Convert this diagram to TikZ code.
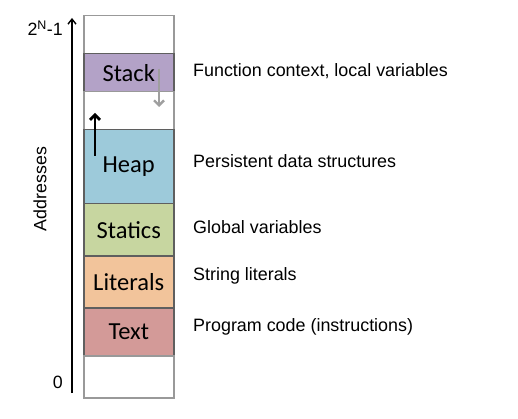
\documentclass[tikz,border=0pt]{standalone}
\usepackage{fontspec}
\setmainfont{Liberation Sans}
\newfontfamily\calib{Carlito}
\usetikzlibrary{arrows.meta}
\definecolor{stackc}{HTML}{B3A2C7}
\definecolor{heapc}{HTML}{9DCADA}
\definecolor{staticc}{HTML}{C7D6A0}
\definecolor{litc}{HTML}{F2C49B}
\definecolor{textc}{HTML}{D39A98}
\definecolor{edgec}{HTML}{5F5F5F}
\tikzset{
  seg/.style={draw=edgec, line width=1.5pt, minimum width=90pt, inner sep=0pt, anchor=north west, font=\calib\fontsize{24.5}{27}\selectfont},
  emptyseg/.style={seg, draw=gray!80},
  desc/.style={anchor=west, inner sep=0pt, font=\fontsize{17.9}{20}\selectfont},
  axlab/.style={inner sep=0pt, font=\fontsize{17.8}{20}\selectfont}
}
\begin{document}
\begin{tikzpicture}[x=1pt,y=-1pt]
\useasboundingbox (0,0) rectangle (518,419);
\node[emptyseg, minimum height=38pt] (top) at (83,15) {};
\node[seg, fill=stackc, minimum height=38pt] (stack) at (83,53) {Stack};
\node[emptyseg, minimum height=38pt] (gap) at (83,91) {};
\node[seg, fill=heapc, minimum height=74pt] (heap) at (83,129) {Heap};
\node[seg, fill=staticc, minimum height=52pt] (statics) at (83,203) {Statics};
\node[seg, fill=litc, minimum height=52pt] (lit) at (83,255) {Literals};
\node[seg, fill=textc, minimum height=48pt] (text) at (83,307) {Text};
\node[emptyseg, minimum height=42pt] (bot) at (83,355) {};

\node[desc] (d1) at (193,71) {Function context, local variables};
\node[desc] (d2) at (193,161) {Persistent data structures};
\node[desc] (d3) at (193,227) {Global variables};
\node[desc] (d4) at (193,276) {String literals};
\node[desc] (d5) at (193,327) {Program code (instructions)};

\coordinate (axb) at (72,393);
\coordinate (axt) at (72,18);
\draw[line width=1.4pt, -{Straight Barb[length=5pt,width=8pt]}] (axb) -- (axt);
\node[axlab, anchor=east] (nmax) at (63,28) {2\textsuperscript{N}-1};
\node[axlab, anchor=east] (zero) at (63,382) {0};
\node[axlab, rotate=90] (addr) at (40,189) {Addresses};

\coordinate (sa1) at (159,69);
\coordinate (sa2) at (159,107);
\draw[gray!75, line width=2.4pt, -{Straight Barb[length=5pt,width=10pt]}] (sa1) -- (sa2);
\coordinate (ha1) at (95,156);
\coordinate (ha2) at (95,113);
\draw[black, line width=2.8pt, -{Straight Barb[length=5pt,width=10pt]}] (ha1) -- (ha2);
\end{tikzpicture}
\end{document}
